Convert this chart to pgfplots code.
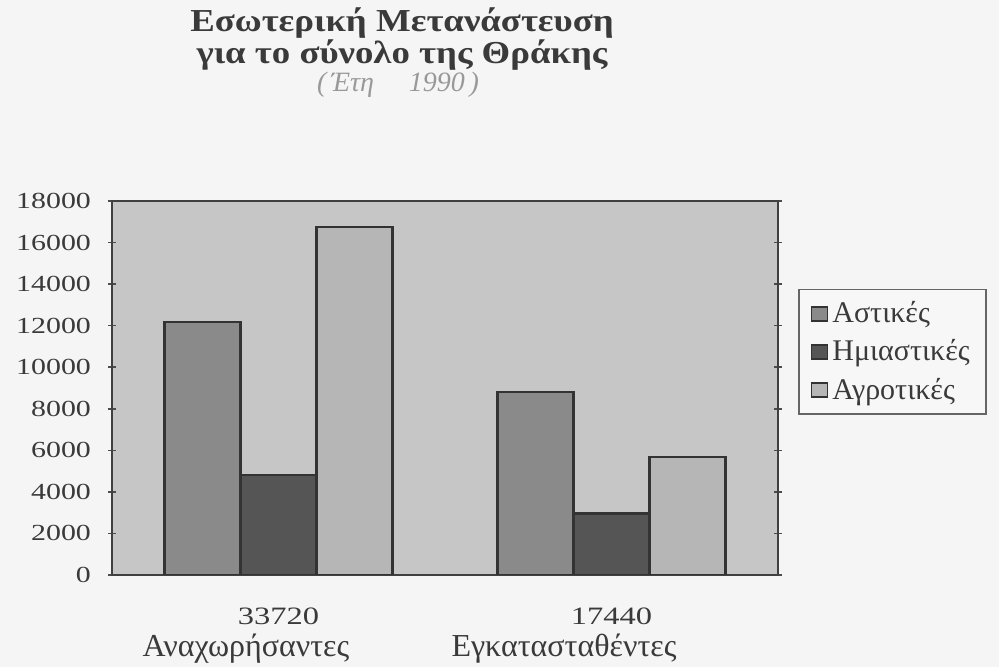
\documentclass[border=0pt]{standalone}
\usepackage{pgfplots}
\pgfplotsset{compat=1.18}
\usepackage{fontspec}
\setmainfont{Liberation Serif}
\newfontfamily\wideserif[FakeStretch=1.3]{Liberation Serif}
\newfontfamily\titleserif[FakeStretch=1.15]{Liberation Serif}
\definecolor{bgplot}{HTML}{C6C6C6}
\definecolor{cAst}{HTML}{8A8A8A}
\definecolor{cHmi}{HTML}{555555}
\definecolor{cAgr}{HTML}{B6B6B6}
\definecolor{txt}{HTML}{3A3A3A}
\begin{document}
\begin{tikzpicture}
\path[use as bounding box] (0,0) rectangle (499.5pt,333.5pt);
\fill[white!96!black] (0,0) rectangle (499.5pt,333.5pt);
\node[font=\titleserif\fontsize{16}{18}\selectfont\bfseries, text=txt] at (201pt,322pt) {Εσωτερική Μετανάστευση};
\node[font=\titleserif\fontsize{16}{18}\selectfont\bfseries, text=txt] at (201pt,306pt) {για το σύνολο της Θράκης};
\node[font=\fontsize{14}{16}\selectfont\itshape, text=black!40] at (199pt,291pt) {(\,Έτη \quad 1990\,)};
\begin{axis}[
  at={(56pt,46pt)}, anchor=south west,
  scale only axis, width=333pt, height=187pt,
  axis background/.style={fill=bgplot},
  ybar=0pt, bar width=38pt,
  xmin=-0.5, xmax=1.5,
  ymin=0, ymax=18000,
  ytick={0,2000,...,18000},
  xtick={0,1},
  xticklabels={33720, 17440},
  extra x ticks={0.5},
  extra x tick labels={},
  extra x tick style={major tick length=5pt, tick align=outside},
  major x tick style={draw=none},
  major tick length=4pt,
  tick align=center,
  tick style={black!70, line width=0.8pt},
  axis line style={black!75, line width=1.1pt},
  xticklabel style={font=\wideserif\fontsize{12.5}{14}\selectfont, text=txt, yshift=-11pt},
  yticklabel style={font=\wideserif\fontsize{11.5}{14}\selectfont, text=txt, xshift=-5pt},
  yticklabel={\pgfmathprintnumber[1000 sep={}]{\tick}},
  /pgf/number format/assume math mode=true,
  scaled y ticks=false,
  legend style={at={(rel axis cs:1.03,0.765)}, anchor=north west,
    draw=black!60, line width=0.8pt, fill=white!97!black,
    font=\fontsize{15}{17}\selectfont, text=txt,
    row sep=3pt, inner xsep=6pt, inner ysep=4pt},
  legend cell align=left,
  legend image code/.code={\draw[#1, line width=0.8pt] (0pt,-3.5pt) rectangle (8pt,3.5pt);},
]
\addplot[fill=cAst, draw=black!80, line width=1.1pt] coordinates {(0,12160) (1,8800)};
\addplot[fill=cHmi, draw=black!80, line width=1.1pt] coordinates {(0,4830) (1,2960)};
\addplot[fill=cAgr, draw=black!80, line width=1.1pt] coordinates {(0,16730) (1,5680)};
\legend{Αστικές, Ημιαστικές, Αγροτικές}
\end{axis}
\node[font=\fontsize{16}{18}\selectfont, text=txt] at (123pt,9pt) {Αναχωρήσαντες};
\node[font=\fontsize{16}{18}\selectfont, text=txt] at (282pt,9pt) {Εγκατασταθέντες};
\end{tikzpicture}
\end{document}
